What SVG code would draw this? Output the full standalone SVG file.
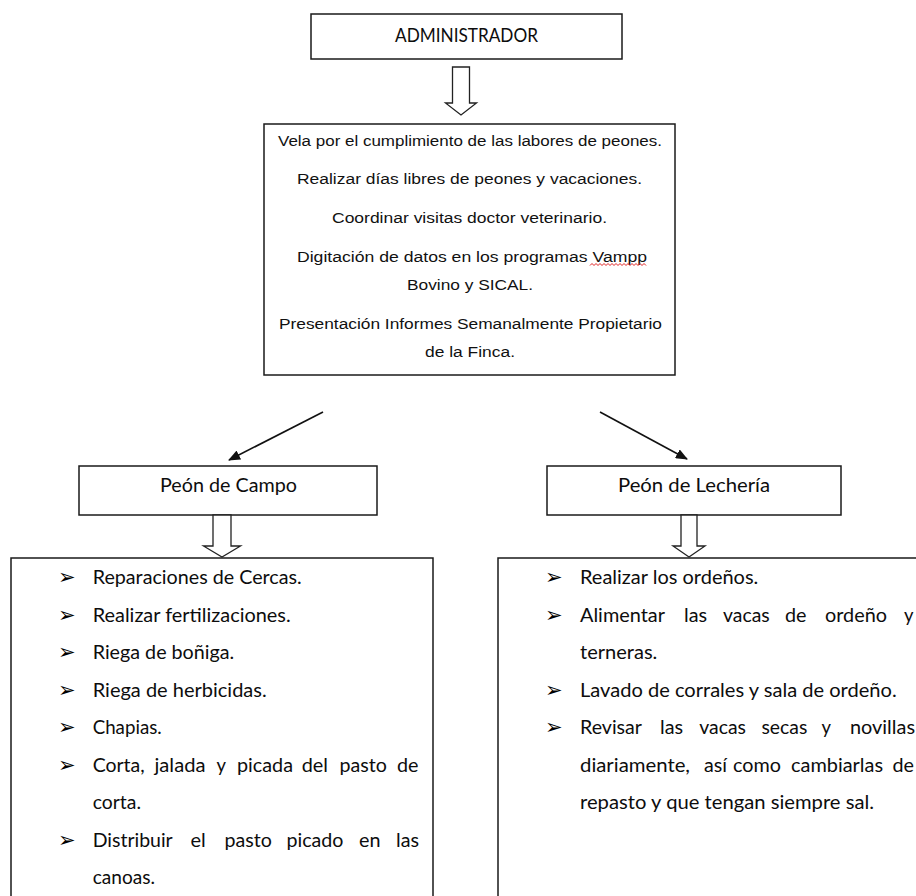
<svg xmlns="http://www.w3.org/2000/svg" width="916" height="896" viewBox="0 0 916 896">
<defs>
<marker id="ah" markerWidth="12" markerHeight="10" refX="11" refY="5" orient="auto" markerUnits="userSpaceOnUse">
<path d="M0,0 L12,5 L0,10 Z" fill="#111"/>
</marker>
<style>
.box{fill:#fff;stroke:#1a1a1a;stroke-width:1.5}
.open{fill:none;stroke:#1a1a1a;stroke-width:1.5}
.hol{fill:#fff;stroke:#222;stroke-width:1.3;stroke-linejoin:miter}
.ar{font-family:"Liberation Sans",Arial,sans-serif;font-size:15.5px;fill:#111}
.cb{font-family:Lato,"Open Sans",sans-serif;font-size:19.5px;fill:#0d0d0d}
.bl{font-family:"DejaVu Sans",sans-serif;font-size:21px;fill:#000}
.conn{stroke:#111;stroke-width:1.6;fill:none}
</style>
</defs>
<rect width="916" height="896" fill="#fff"/>

<g id="administrador">
<rect class="box" x="311" y="14" width="311" height="45"/>
<text class="cb" x="395" y="42" font-size="18" textLength="143" lengthAdjust="spacingAndGlyphs">ADMINISTRADOR</text>
</g>

<g id="funciones-admin">
<rect class="box" x="264" y="124" width="411" height="251"/>
<text class="ar" x="278" y="145.5" textLength="384" lengthAdjust="spacingAndGlyphs">Vela por el cumplimiento de las labores de peones.</text>
<text class="ar" x="297" y="184" textLength="345" lengthAdjust="spacingAndGlyphs">Realizar días libres de peones y vacaciones.</text>
<text class="ar" x="332" y="222.5" textLength="275" lengthAdjust="spacingAndGlyphs">Coordinar visitas doctor veterinario.</text>
<text class="ar" x="297" y="261.5" textLength="350" lengthAdjust="spacingAndGlyphs">Digitación de datos en los programas Vampp</text>
<path d="M590,265.5 l2,-2 l2,2 l2,-2 l2,2 l2,-2 l2,2 l2,-2 l2,2 l2,-2 l2,2 l2,-2 l2,2 l2,-2 l2,2 l2,-2 l2,2 l2,-2 l2,2 l2,-2 l2,2 l2,-2 l2,2 l2,-2 l2,2 l2,-2 l2,2 l2,-2 l2,2" fill="none" stroke="#e02020" stroke-width="1"/>
<text class="ar" x="407" y="290" textLength="126" lengthAdjust="spacingAndGlyphs">Bovino y SICAL.</text>
<text class="ar" x="279" y="328.5" textLength="383" lengthAdjust="spacingAndGlyphs">Presentación Informes Semanalmente Propietario</text>
<text class="ar" x="425" y="357" textLength="90" lengthAdjust="spacingAndGlyphs">de la Finca.</text>
</g>

<g id="peon-campo">
<rect class="box" x="79" y="466" width="298" height="49"/>
<text class="cb" x="160" y="492" textLength="137" lengthAdjust="spacingAndGlyphs">Peón de Campo</text>
</g>

<g id="peon-lecheria">
<rect class="box" x="547" y="466" width="294" height="49"/>
<text class="cb" x="618" y="492" textLength="152" lengthAdjust="spacingAndGlyphs">Peón de Lechería</text>
</g>

<g id="tareas-campo">
<path class="open" d="M11,900 V558 H433 V900"/>
<g class="bl">
<text x="58" y="584">➢</text>
<text x="58" y="621.5">➢</text>
<text x="58" y="659">➢</text>
<text x="58" y="696.5">➢</text>
<text x="58" y="734">➢</text>
<text x="58" y="771.5">➢</text>
<text x="58" y="846.5">➢</text>
</g>
<text class="cb" x="92.7" y="584" textLength="209" lengthAdjust="spacingAndGlyphs">Reparaciones de Cercas.</text>
<text class="cb" x="92.7" y="621.5" textLength="198" lengthAdjust="spacingAndGlyphs">Realizar fertilizaciones.</text>
<text class="cb" x="92.7" y="659" textLength="141.5" lengthAdjust="spacingAndGlyphs">Riega de boñiga.</text>
<text class="cb" x="92.7" y="696.5" textLength="174" lengthAdjust="spacingAndGlyphs">Riega de herbicidas.</text>
<text class="cb" x="92.7" y="734" textLength="69" lengthAdjust="spacingAndGlyphs">Chapias.</text>
<g class="cb">
<text x="92.7" y="771.5" textLength="52" lengthAdjust="spacingAndGlyphs">Corta,</text>
<text x="154.5" y="771.5" textLength="51" lengthAdjust="spacingAndGlyphs">jalada</text>
<text x="216.5" y="771.5" textLength="9.5" lengthAdjust="spacingAndGlyphs">y</text>
<text x="237" y="771.5" textLength="56" lengthAdjust="spacingAndGlyphs">picada</text>
<text x="301.7" y="771.5" textLength="26.3" lengthAdjust="spacingAndGlyphs">del</text>
<text x="339.5" y="771.5" textLength="47.4" lengthAdjust="spacingAndGlyphs">pasto</text>
<text x="397" y="771.5" textLength="21.5" lengthAdjust="spacingAndGlyphs">de</text>
</g>
<text class="cb" x="92.7" y="809" textLength="48.3" lengthAdjust="spacingAndGlyphs">corta.</text>
<g class="cb">
<text x="92.7" y="846.5" textLength="80" lengthAdjust="spacingAndGlyphs">Distribuir</text>
<text x="190.5" y="846.5" textLength="15.3" lengthAdjust="spacingAndGlyphs">el</text>
<text x="224.5" y="846.5" textLength="47.4" lengthAdjust="spacingAndGlyphs">pasto</text>
<text x="286.5" y="846.5" textLength="57" lengthAdjust="spacingAndGlyphs">picado</text>
<text x="359" y="846.5" textLength="21.5" lengthAdjust="spacingAndGlyphs">en</text>
<text x="396" y="846.5" textLength="23" lengthAdjust="spacingAndGlyphs">las</text>
</g>
<text class="cb" x="92.7" y="884" textLength="62.3" lengthAdjust="spacingAndGlyphs">canoas.</text>
</g>

<g id="tareas-lecheria">
<path class="open" d="M498,900 V558 H920"/>
<g class="bl">
<text x="545" y="584">➢</text>
<text x="545" y="621.5">➢</text>
<text x="545" y="696.5">➢</text>
<text x="545" y="734">➢</text>
</g>
<text class="cb" x="580" y="584" textLength="178.3" lengthAdjust="spacingAndGlyphs">Realizar los ordeños.</text>
<g class="cb">
<text x="580" y="621.5" textLength="85" lengthAdjust="spacingAndGlyphs">Alimentar</text>
<text x="684" y="621.5" textLength="23.1" lengthAdjust="spacingAndGlyphs">las</text>
<text x="723" y="621.5" textLength="46.7" lengthAdjust="spacingAndGlyphs">vacas</text>
<text x="785" y="621.5" textLength="21.5" lengthAdjust="spacingAndGlyphs">de</text>
<text x="825" y="621.5" textLength="62" lengthAdjust="spacingAndGlyphs">ordeño</text>
<text x="904" y="621.5" textLength="9.5" lengthAdjust="spacingAndGlyphs">y</text>
</g>
<text class="cb" x="580" y="659" textLength="77.3" lengthAdjust="spacingAndGlyphs">terneras.</text>
<text class="cb" x="580" y="696.5" textLength="316.7" lengthAdjust="spacingAndGlyphs">Lavado de corrales y sala de ordeño.</text>
<g class="cb">
<text x="580" y="734" textLength="62" lengthAdjust="spacingAndGlyphs">Revisar</text>
<text x="660" y="734" textLength="23.1" lengthAdjust="spacingAndGlyphs">las</text>
<text x="699.3" y="734" textLength="46.7" lengthAdjust="spacingAndGlyphs">vacas</text>
<text x="761.5" y="734" textLength="45.8" lengthAdjust="spacingAndGlyphs">secas</text>
<text x="821.5" y="734" textLength="9.5" lengthAdjust="spacingAndGlyphs">y</text>
<text x="850" y="734" textLength="65" lengthAdjust="spacingAndGlyphs">novillas</text>
</g>
<g class="cb">
<text x="580" y="771.5" textLength="110" lengthAdjust="spacingAndGlyphs">diariamente,</text>
<text x="704" y="771.5" textLength="23" lengthAdjust="spacingAndGlyphs">así</text>
<text x="733" y="771.5" textLength="48" lengthAdjust="spacingAndGlyphs">como</text>
<text x="791" y="771.5" textLength="92" lengthAdjust="spacingAndGlyphs">cambiarlas</text>
<text x="892.5" y="771.5" textLength="21.5" lengthAdjust="spacingAndGlyphs">de</text>
</g>
<text class="cb" x="580" y="809" textLength="294" lengthAdjust="spacingAndGlyphs">repasto y que tengan siempre sal.</text>
</g>

<g id="conectores">
<polygon class="hol" points="452.5,67 469.5,67 469.5,103 476.5,103 461,115 445.5,103 452.5,103"/>
<polygon class="hol" points="213,515 231,515 231,546 240.5,546 222,557 203.5,546 213,546"/>
<polygon class="hol" points="681,515 697,515 697,546 705,546 689,557 673,546 681,546"/>
<line class="conn" x1="323" y1="412" x2="229" y2="460" marker-end="url(#ah)"/>
<line class="conn" x1="600" y1="412" x2="687" y2="459" marker-end="url(#ah)"/>
</g>
</svg>
